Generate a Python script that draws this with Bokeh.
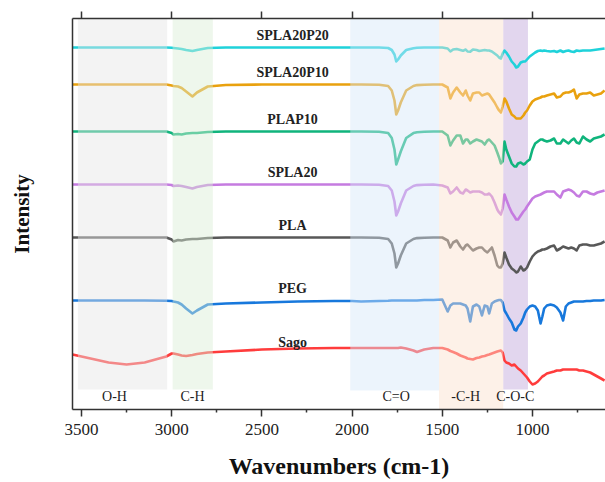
from bokeh.plotting import figure
from bokeh.models import Range1d, FixedTicker, LinearAxis, ColumnDataSource
from bokeh.embed import file_html
from bokeh.resources import INLINE
from bokeh.core.properties import value

# ---------------- data ----------------
wavenumber = [3550, 3450, 3350, 3250, 3150, 3030,
              3000, 2990, 2965, 2945, 2920, 2885, 2860, 2800,
              2700, 2500, 2300, 2100, 2000, 1950, 1850, 1800,
              1780, 1765, 1755, 1745, 1730, 1700, 1660, 1640, 1600, 1550,
              1500, 1470, 1455, 1440, 1420, 1400, 1385, 1370, 1360, 1345,
              1330, 1310, 1295, 1280, 1265, 1250, 1240, 1225, 1210, 1195,
              1185, 1175, 1165, 1155, 1145, 1130, 1115, 1100, 1090, 1080,
              1065, 1050, 1040, 1030, 1015, 1000, 985, 970, 955, 945,
              935, 920, 900, 880, 865, 845, 830, 815, 800, 785,
              770, 755, 740, 720, 700, 680, 660, 640, 620, 600]

series_names = ["SPLA20P20", "SPLA20P10", "PLAP10", "SPLA20", "PLA", "PEG", "Sago"]
series_offsets = [362, 325, 278, 225, 172, 109, 55]

# dips below each trace's baseline (arbitrary intensity units)
dip_spla20p20 = [0, 0, 0, 0, 0, 0,
                 0.3, 0.5, 1, 1.5, 2.5, 3.5, 2.5, 0.5,
                 0, 0, 0, 0, 0, 0, 0, 0.5,
                 2.5, 7, 14, 12, 8, 2.5, 0.7, 0.3, 0, 0,
                 0, 1, 4, 2, 1.5, 2.5, 3.3, 2, 4, 4.3,
                 2, 2.5, 3.5, 3, 2.5, 3, 3, 4, 6, 8,
                 10, 11, 6, 3, 5, 9, 14, 17, 20, 19,
                 15, 14, 14, 12, 9, 7, 5, 3.5, 3, 3.5,
                 3, 3.5, 4, 3.5, 4.5, 3, 4.5, 3.5, 3, 4,
                 4.5, 3, 3.5, 3, 3, 3, 2.5, 2, 1.5, 1]
dip_spla20p10 = [0, 0, 0, 0, 0, 0,
                 1, 1.5, 2, 3.5, 7, 12, 8, 2,
                 0.5, 0, 0, 0, 0, 0, 0.3, 1.5,
                 6, 16, 30, 26, 18, 6, 1.5, 0.6, 0.2, 0,
                 0, 3, 14, 8, 3, 8, 11, 6, 11, 16,
                 9, 8, 8, 11, 10, 9, 10, 14, 18, 23,
                 26, 28, 22, 14, 17, 24, 30, 32, 34, 34,
                 34, 31, 28, 26, 21, 17, 15, 14, 13, 12,
                 12, 11, 10, 9, 13, 12, 9, 8, 8, 7,
                 5, 14, 10, 9, 9, 8, 11, 10, 9, 6]
dip_plap10 = [0, 0, 0, 0, 0, 0,
              1.5, 3, 2.5, 3, 2, 1.5, 1.5, 0.5,
              0, 0, 0, 0, 0, 0, 0.3, 1.5,
              6.5, 18, 33, 28, 20, 6.5, 1.6, 0.7, 0.2, 0,
              0, 4, 14, 9, 4, 4, 12, 8, 8, 12,
              10, 8, 9, 10, 13, 9, 8, 11, 14, 21,
              26, 32, 30, 10, 18, 25, 32, 35, 35, 32,
              31, 33, 32, 30, 28, 18, 12, 10, 8, 8,
              9, 10, 9, 7, 12, 12, 8, 10, 12, 9,
              7, 11, 12, 5, 8, 10, 7, 6, 5, 3]
dip_spla20 = [0, 0, 0, 0, 0, 0,
              0.5, 1.5, 1, 1.5, 2.5, 4, 2.5, 0.5,
              0, 0, 0, 0, 0, 0, 0.3, 1.5,
              6, 17, 31, 27, 19, 6, 1.5, 0.6, 0.2, 0,
              1, 3, 9, 7, 3, 8, 9, 5, 6, 8,
              7, 7, 7, 8, 10, 10, 9, 12, 18, 25,
              28, 30, 24, 10, 15, 22, 28, 32, 35, 35,
              31, 27, 25, 22, 18, 14, 12, 11, 10, 9,
              8, 7, 7, 7, 10, 13, 7, 6, 5, 6,
              8, 11, 12, 7, 7, 9, 10, 8, 7, 6]
dip_pla = [0, 0, 0, 0, 0, 0,
           2, 4, 2.5, 3, 2, 1.5, 1.5, 0.5,
           0, 0, 0, 0, 0, 0, 0.3, 1.5,
           6, 16, 30, 26, 18, 6, 1.5, 0.6, 0.2, 0,
           0, 3, 10, 5, 3, 9, 12, 8, 7, 10,
           13, 11, 10, 10, 13, 15, 13, 10, 18, 28,
           30, 30, 26, 15, 20, 27, 31, 33, 35, 34,
           29, 33, 32, 30, 24, 19, 16, 14, 13, 12,
           12, 11, 9, 8, 13, 11, 9, 10, 11, 10,
           11, 13, 8, 7, 7, 8, 8, 7, 6, 4]
dip_peg = [0, 0, 0, 0, 0, 0.3,
           0.5, 1, 2, 4, 8, 13, 10, 4,
           3, 2, 1, 0.5, 0.5, 1, 0.5, 0.3,
           0, 0, 0, 0, 0, 0, 0, 0, -0.5, -0.5,
           -1, 11, 5, 3, 3, 3, 4, 5, 8, 21,
           6, 4, 6, 15, 5, 6, 13, 3, 1, 0,
           -0.5, -0.5, 2, 10, 13, 18, 22, 29, 30, 26,
           23, 17, 12, 9, 6, 5, 6, 10, 23, 16,
           8, 5, 4, 5, 7, 12, 20, 6, 3, 2,
           1, 1, 1, 1, 0.5, 0.5, 0, 0, 0, -0.5]
dip_sago = [0, 4, 8, 10, 8, 2,
            -1, -1, 0, 1, 1.5, 0.5, -0.5, -2,
            -3, -5, -6, -6.5, -6.5, -6.5, -6.5, -6.5,
            -6.5, -6.5, -6.5, -6.5, -7, -6, -4, -2.5, -5, -6.5,
            -6.5, -5, -3.5, -2.5, -1, 1, 2, 3, 4, 4.5,
            5, 3.5, 3, 2, 1.5, 0.5, 0, -1, -2, -3,
            -3.5, -4, -2, 6, 8, 9, 11, 10, 12, 14,
            16, 19, 21, 23, 27, 30, 29, 27, 24, 22,
            21, 19, 18, 17, 16, 16, 15, 15, 15, 15,
            15, 15, 16, 16, 17, 18, 20, 22, 24, 26]

series_dips = [dip_spla20p20, dip_spla20p10, dip_plap10, dip_spla20, dip_pla, dip_peg, dip_sago]
series_colors = ["#1fd2da", "#e9a10e", "#10b47c", "#c57be0", "#585858", "#1778dc", "#ff3c3c"]

band_names = ["O-H", "C-H", "C=O", "-C-H", "C-O-C"]
band_left = [3520, 2995, 2010, 1518, 1162]
band_right = [3025, 2772, 1518, 1162, 1025]
band_label_x = [3317, 2885, 1756, 1370, 1095]

x_ticks = [3500, 3000, 2500, 2000, 1500, 1000]
x_minor_ticks = [3250, 2750, 2250, 1750, 1250, 750]

for d in series_dips:
    if len(d) != len(wavenumber):
        raise ValueError("length mismatch %d" % len(d))

# ---------------- figure ----------------
SERIF = "Liberation Serif"
Y_TOP = 391

p = figure(width=605, height=482, output_backend="svg", toolbar_location=None,
           x_range=Range1d(3550, 595), y_range=Range1d(0, Y_TOP),
           min_border_left=72, min_border_right=0, min_border_top=18, min_border_bottom=73)
p.outline_line_color = None
p.xgrid.visible = False
p.ygrid.visible = False
p.background_fill_color = "white"

# purple C-O-C band underneath the traces
p.quad(left=[band_left[4]], right=[band_right[4]], bottom=[20], top=[Y_TOP],
       fill_color="#e2d6ee", line_color=None)

for name, off, dips, col in zip(series_names, series_offsets, series_dips, series_colors):
    ys = [off - d for d in dips]
    src = ColumnDataSource(dict(x=wavenumber, y=ys))
    p.line("x", "y", source=src, line_color=col, line_width=2.6, line_join="round")

# translucent bands on top (they fade the traces as in the reference)
overlay_colors = ["#e5e5e5", "#d9edd5", "#d5e7f9", "#fbe0cc"]
overlay_bottoms = [20, 20, 19, 0]
for i in range(4):
    p.quad(left=[band_left[i]], right=[band_right[i]], bottom=[overlay_bottoms[i]], top=[Y_TOP],
           fill_color=overlay_colors[i], fill_alpha=0.45, line_color=None)

# series labels
p.text(x=[2330] * len(series_names), y=[o + 12 for o in series_offsets], text=series_names,
       text_font=value(SERIF), text_font_style="bold", text_font_size="14px",
       text_color="#222222", text_align="center", text_baseline="middle")

# band labels
p.text(x=band_label_x, y=[13] * len(band_names), text=band_names,
       text_font=value(SERIF), text_font_size="14px",
       text_color="#222222", text_align="center", text_baseline="middle")

# bottom axis
xa = p.xaxis[0]
xa.ticker = FixedTicker(ticks=x_ticks, minor_ticks=x_minor_ticks)
xa.axis_label = "Wavenumbers (cm-1)"
xa.axis_label_text_font = SERIF
xa.axis_label_text_font_style = "bold"
xa.axis_label_text_font_size = "24px"
xa.axis_label_text_color = "#111111"
xa.axis_label_standoff = 15
xa.major_label_text_font = SERIF
xa.major_label_text_font_size = "17px"
xa.major_label_text_color = "#222222"
xa.major_label_standoff = 7
xa.major_tick_in = 0
xa.major_tick_out = 7
xa.minor_tick_in = 0
xa.minor_tick_out = 3
xa.axis_line_color = "#333333"
xa.axis_line_width = 1.5
xa.major_tick_line_color = "#333333"
xa.major_tick_line_width = 1.5
xa.minor_tick_line_color = "#333333"
xa.minor_tick_line_width = 1.5

# top axis: ticks only
ta = LinearAxis(ticker=FixedTicker(ticks=x_ticks))
ta.major_label_overrides = {t: "" for t in x_ticks}
ta.major_label_standoff = 0
ta.major_tick_in = 0
ta.major_tick_out = 7
ta.minor_tick_line_color = None
ta.axis_line_color = "#333333"
ta.axis_line_width = 1.5
ta.major_tick_line_color = "#333333"
ta.major_tick_line_width = 1.5
p.add_layout(ta, "above")

# left axis: line + title only
ya = p.yaxis[0]
ya.ticker = FixedTicker(ticks=[])
ya.major_tick_line_color = None
ya.minor_tick_line_color = None
ya.axis_label = "Intensity"
ya.axis_label_text_font = SERIF
ya.axis_label_text_font_style = "bold"
ya.axis_label_text_font_size = "21px"
ya.axis_label_text_color = "#111111"
ya.axis_label_standoff = 39
ya.axis_line_color = "#333333"
ya.axis_line_width = 1.5

open("out.html", "w").write(file_html(p, INLINE))
